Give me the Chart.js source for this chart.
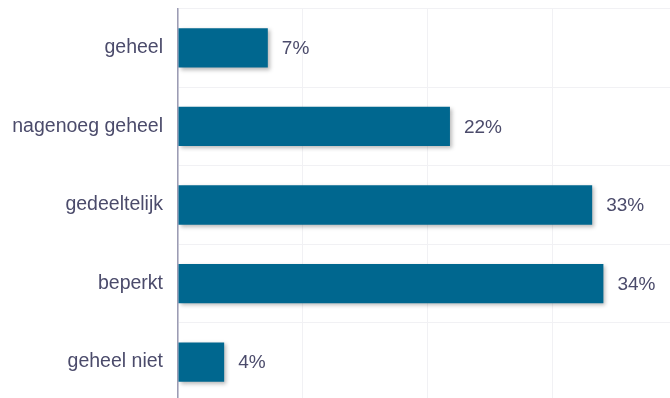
<!DOCTYPE html>
<html>
<head>
<meta charset="utf-8">
<script src="https://cdn.jsdelivr.net/npm/chart.js@4.4.1/dist/chart.umd.min.js"></script>
<style>
  html, body { margin: 0; padding: 0; background: #fff; overflow: hidden; }
  #wrap { width: 677px; height: 446px; margin-top: -18px; position: relative; }
</style>
</head>
<body>
<div id="wrap"><canvas id="barChart"></canvas></div>
<script>
const categories = ['geheel', 'nagenoeg geheel', 'gedeeltelijk', 'beperkt', 'geheel niet'];
const shares = [7.2, 21.8, 33.2, 34.1, 3.7];
const xTicks = [0, 10, 20, 30, 40];

const textColor = '#4b4b6b';
const barColor = '#00678f';
const fontFamily = '"Liberation Sans", Arial, sans-serif';

// soft drop shadow under the bars
const barShadow = {
  id: 'barShadow',
  beforeDatasetsDraw(chart) {
    const ctx = chart.ctx;
    ctx.save();
    ctx.shadowColor = 'rgba(0,0,0,0.28)';
    ctx.shadowBlur = 4;
    ctx.shadowOffsetX = 2;
    ctx.shadowOffsetY = 2;
  },
  afterDatasetsDraw(chart) {
    chart.ctx.restore();
  }
};

// percentage text after each bar
const valueLabels = {
  id: 'valueLabels',
  afterDatasetsDraw(chart) {
    const ctx = chart.ctx;
    const meta = chart.getDatasetMeta(0);
    ctx.save();
    ctx.font = '19px ' + fontFamily;
    ctx.fillStyle = textColor;
    ctx.textAlign = 'left';
    ctx.textBaseline = 'middle';
    meta.data.forEach((bar, i) => {
      ctx.fillText(Math.round(shares[i]) + '%', bar.x + 14, bar.y + 1);
    });
    ctx.restore();
  }
};

new Chart(document.getElementById('barChart'), {
  type: 'bar',
  data: {
    labels: categories,
    datasets: [{
      data: shares,
      backgroundColor: barColor,
      borderWidth: 0,
      categoryPercentage: 1,
      barPercentage: 0.5
    }]
  },
  options: {
    indexAxis: 'y',
    responsive: true,
    maintainAspectRatio: false,
    animation: false,
    layout: { padding: { top: 0, right: 0, bottom: 0, left: 0 } },
    plugins: {
      legend: { display: false },
      tooltip: { enabled: false }
    },
    scales: {
      x: {
        min: xTicks[0],
        max: xTicks[xTicks.length - 1],
        afterBuildTicks(scale) {
          scale.ticks = xTicks.map(v => ({ value: v }));
        },
        ticks: { display: false },
        border: { display: false },
        grid: { color: '#f1f1f4', lineWidth: 1, drawTicks: false }
      },
      y: {
        afterFit(scale) { scale.width = 178; },
        ticks: {
          color: textColor,
          padding: 15,
          font: { family: fontFamily, size: 19.5 }
        },
        border: { display: true, color: '#9c9cb4', width: 1.5 },
        grid: { color: '#f1f1f4', lineWidth: 1, drawTicks: false, offset: true }
      }
    }
  },
  plugins: [barShadow, valueLabels]
});
</script>
</body>
</html>
